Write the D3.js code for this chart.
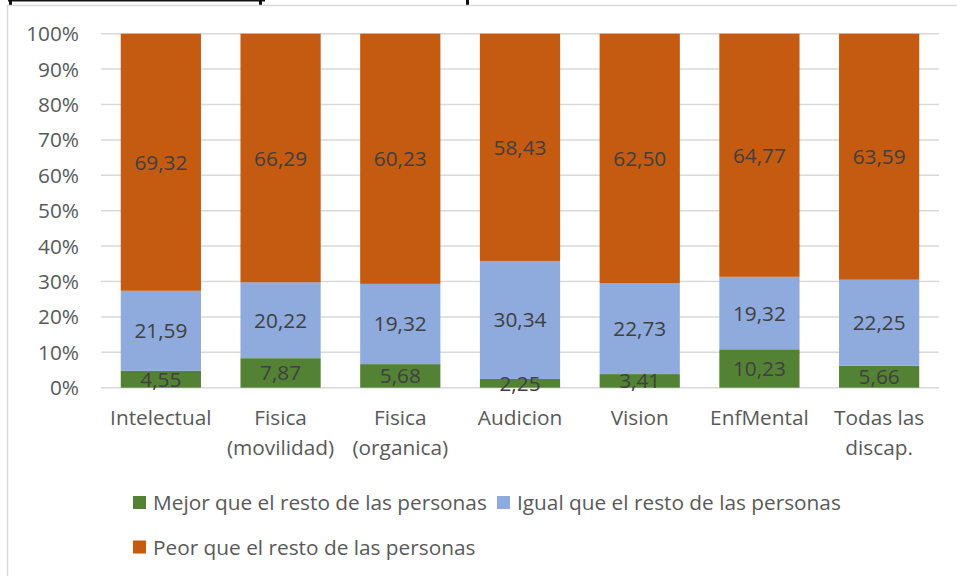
<!DOCTYPE html>
<html>
<head>
<meta charset="utf-8">
<script src="https://cdn.jsdelivr.net/npm/d3@7"></script>
<style>
  body { margin: 0; background: #fff; }
  text { font-family: "Open Sans", "Noto Sans", sans-serif; }
</style>
</head>
<body>
<script>
// categories and series (rows don't sum to 100, chart is 100% stacked)
var categories = ["Intelectual", "Fisica (movilidad)", "Fisica (organica)", "Audicion", "Vision", "EnfMental", "Todas las discap."]
var catLines = [["Intelectual"], ["Fisica", "(movilidad)"], ["Fisica", "(organica)"], ["Audicion"], ["Vision"], ["EnfMental"], ["Todas las", "discap."]]
var mejor = [4.55, 7.87, 5.68, 2.25, 3.41, 10.23, 5.66]
var igual = [21.59, 20.22, 19.32, 30.34, 22.73, 19.32, 22.25]
var peor = [69.32, 66.29, 60.23, 58.43, 62.50, 64.77, 63.59]
var seriesNames = ["Mejor que el resto de las personas", "Igual que el resto de las personas", "Peor que el resto de las personas"]
var colors = ["#548235", "#8FAADC", "#C55A11"]
var yTicks = [0, 0.1, 0.2, 0.3, 0.4, 0.5, 0.6, 0.7, 0.8, 0.9, 1]

var W = 957, H = 576, FS = 20.8
var svg = d3.select("body").append("svg").attr("width", W).attr("height", H)

// leftovers of the cropped title above the chart
svg.append("rect").attr("x", 8).attr("y", 0).attr("width", 257).attr("height", 1.5).attr("fill", "#111")
svg.selectAll("rect.tt").data([9, 259, 466]).enter().append("rect")
    .attr("x", function(d){return d}).attr("y", 0).attr("width", 3).attr("height", 5).attr("fill", "#111")

// chart frame
svg.append("path").attr("d", "M7.5," + H + "V5.5H" + W)
    .attr("fill", "none").attr("stroke", "#D9D9D9").attr("stroke-width", 1.5)

var x = d3.scaleBand().domain(categories).range([101, 939]).paddingInner(0.33).paddingOuter(0.165)
var y = d3.scaleLinear().domain([0, 1]).range([387.7, 33.7])

var rows = categories.map(function(c, i){ return {cat: c, m: mejor[i], g: igual[i], p: peor[i]} })
var stack = d3.stack().keys(["m", "g", "p"]).offset(d3.stackOffsetExpand)
var layers = stack(rows)

// gridlines
svg.selectAll("line.grid").data(yTicks).enter().append("line")
    .attr("x1", 101).attr("x2", 939)
    .attr("y1", function(d){return y(d)}).attr("y2", function(d){return y(d)})
    .attr("stroke", "#D9D9D9").attr("stroke-width", 1.5)

// y labels
svg.selectAll("text.ytick").data(yTicks).enter().append("text")
    .attr("x", 79).attr("y", function(d){return y(d)}).attr("dy", "0.36em")
    .attr("text-anchor", "end").attr("font-size", FS).attr("fill", "#595959")
    .text(function(d){return Math.round(d * 100) + "%"})

var g = svg.selectAll("g.layer").data(layers).enter().append("g")
    .attr("fill", function(d, i){return colors[i]})

g.selectAll("rect").data(function(d){return d}).enter().append("rect")
    .attr("x", function(d){return x(d.data.cat)})
    .attr("width", x.bandwidth())
    .attr("y", function(d){return y(d[1])})
    .attr("height", function(d){return y(d[0]) - y(d[1])})

var fmt = d3.formatLocale({decimal: ",", thousands: ".", grouping: [3], currency: ["", "€"]}).format(".2f")

// value labels, centred in each segment
layers.forEach(function(layer){
  svg.selectAll(null).data(layer).enter().append("text")
      .attr("x", function(d){return x(d.data.cat) + x.bandwidth() / 2})
      .attr("y", function(d){return y((d[0] + d[1]) / 2)})
      .attr("dy", "0.36em")
      .attr("text-anchor", "middle").attr("font-size", FS).attr("fill", "#404040")
      .text(function(d){return fmt(d.data[layer.key])})
})

// category labels
svg.selectAll("text.cat").data(categories).enter().append("text")
    .attr("x", function(d){return x(d) + x.bandwidth() / 2})
    .attr("y", 418).attr("text-anchor", "middle").attr("font-size", FS).attr("fill", "#595959")
    .each(function(d, i){
      var t = d3.select(this)
      catLines[i].forEach(function(s, j){
        t.append("tspan").attr("x", x(d) + x.bandwidth() / 2).attr("dy", j == 0 ? "0.36em" : 30).text(s)
      })
    })

// legend
var legPos = [[133, 502.5], [497, 502.5], [133, 547]]
var leg = svg.selectAll("g.leg").data(seriesNames).enter().append("g")
    .attr("transform", function(d, i){return "translate(" + legPos[i][0] + "," + legPos[i][1] + ")"})
leg.append("rect").attr("x", 0).attr("y", -6.5).attr("width", 13).attr("height", 13)
    .attr("fill", function(d, i){return colors[i]})
leg.append("text").attr("x", 20).attr("dy", "0.36em").attr("font-size", FS).attr("fill", "#595959")
    .text(function(d){return d})
</script>
</body>
</html>
